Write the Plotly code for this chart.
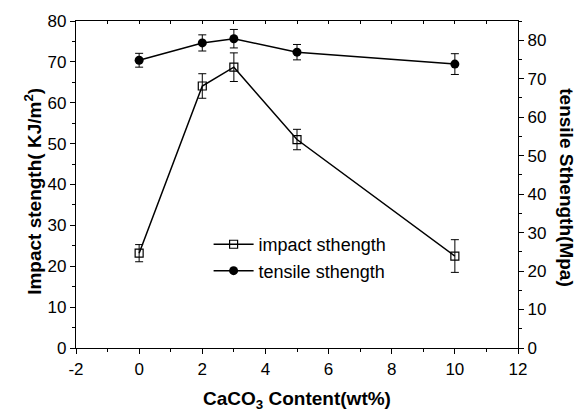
import plotly.graph_objects as go

content = [0, 2, 3, 5, 10]
impact = [23.2, 64.1, 68.7, 51.0, 22.5]
impact_err = [2.1, 3.0, 3.5, 2.5, 4.0]
tensile = [74.8, 79.3, 80.4, 76.9, 73.8]
tensile_err = [1.8, 2.1, 2.4, 2.0, 2.7]

x_ticks = [-2, 0, 2, 4, 6, 8, 10, 12]
x_tick_labels = ["-2", "0", "2", "4", "6", "8", "10", "12"]

FONT = "Liberation Sans, Arial, sans-serif"
TICK = 17
TITLE = 19

fig = go.Figure()
fig.add_trace(go.Scatter(
    x=content, y=impact, name="impact sthength", mode="lines+markers",
    line=dict(color="black", width=1.5),
    marker=dict(symbol="square-open", size=8, color="black", line=dict(width=1.2)),
    error_y=dict(type="data", array=impact_err, color="black", thickness=1, width=4),
    yaxis="y"))
fig.add_trace(go.Scatter(
    x=content, y=tensile, name="tensile sthength", mode="lines+markers",
    line=dict(color="black", width=1.5),
    marker=dict(symbol="circle", size=9, color="black"),
    error_y=dict(type="data", array=tensile_err, color="black", thickness=1, width=4),
    yaxis="y2"))

# invisible trace for top axis ticks
fig.add_trace(go.Scatter(x=[-2, 12], y=[0, 0], mode="markers", marker=dict(opacity=0),
                         showlegend=False, hoverinfo="skip", xaxis="x2", yaxis="y"))

fig.update_layout(
    width=576, height=412,
    margin=dict(l=76, r=58, t=21, b=64),
    paper_bgcolor="white", plot_bgcolor="white",
    font=dict(family=FONT, size=TICK, color="black"),
    showlegend=True,
    legend=dict(x=0.30, y=0.373, xanchor="left", yanchor="top", bgcolor="rgba(0,0,0,0)",
                font=dict(size=18), tracegroupgap=0, itemwidth=40),
    xaxis=dict(range=[-2, 12], tickmode="array", tickvals=x_ticks, ticktext=x_tick_labels,
               ticks="outside", ticklen=5, tickwidth=1, tickcolor="black",
               tickfont=dict(size=TICK),
               showline=True, linecolor="black", linewidth=1.2, mirror=True,
               showgrid=False, zeroline=False, automargin=False,
               minor=dict(ticks="outside", ticklen=3, dtick=1, tick0=-2, tickcolor="black"),
               title=dict(text="<b>CaCO<sub>3</sub> Content(wt%)</b>", font=dict(size=TITLE), standoff=16)),
    xaxis2=dict(range=[-2, 12], overlaying="x", side="top", tickmode="linear", tick0=-2, dtick=1,
                ticks="inside", ticklen=3, tickcolor="black", showticklabels=False,
                showgrid=False, zeroline=False, showline=False, automargin=False),
    yaxis=dict(range=[0, 80], tickmode="linear", tick0=0, dtick=10,
               ticks="outside", ticklen=5, tickwidth=1, tickcolor="black",
               tickfont=dict(size=TICK),
               showline=True, linecolor="black", linewidth=1.2,
               showgrid=False, zeroline=False, automargin=False,
               minor=dict(ticks="outside", ticklen=3, dtick=5, tick0=0, tickcolor="black")),
    yaxis2=dict(range=[0, 85], overlaying="y", side="right", tickmode="linear", tick0=0, dtick=10,
                ticks="outside", ticklen=5, tickwidth=1, tickcolor="black",
                tickfont=dict(size=TICK),
                showline=True, linecolor="black", linewidth=1.2,
                showgrid=False, zeroline=False, automargin=False,
                minor=dict(ticks="outside", ticklen=3, dtick=5, tick0=0, tickcolor="black")),
    annotations=[
        dict(text="<b>Impact stength( KJ/m<sup>2</sup>)</b>", textangle=-90, xref="paper", yref="paper",
             x=-0.097, y=0.478, xanchor="center", yanchor="middle", showarrow=False,
             font=dict(size=TITLE, family=FONT)),
        dict(text="<b>tensile Sthength(Mpa)</b>", textangle=90, xref="paper", yref="paper",
             x=1.109, y=0.491, xanchor="center", yanchor="middle", showarrow=False,
             font=dict(size=TITLE, family=FONT)),
    ],
)

fig.write_html("out.html", config={"displayModeBar": False},
               post_script="document.body.style.margin='0';document.body.style.padding='0';")
